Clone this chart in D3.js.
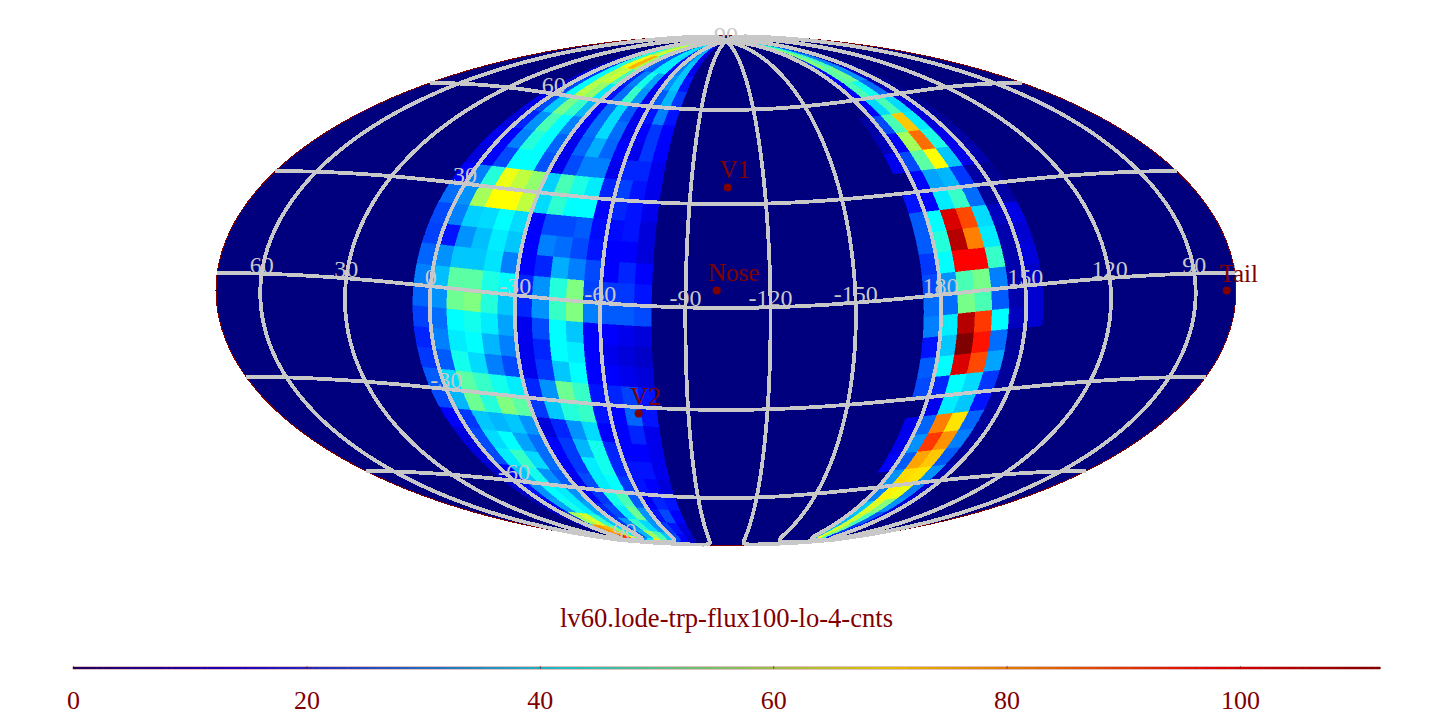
<!DOCTYPE html>
<html><head><meta charset="utf-8">
<script src="https://cdnjs.cloudflare.com/ajax/libs/d3/7.8.5/d3.min.js"></script>
<style>html,body{margin:0;padding:0;background:#fff;overflow:hidden}svg{display:block}text{font-family:"Liberation Serif",serif}</style>
</head><body><svg id="c" width="1452" height="728"></svg>
<script>
const title = "lv60.lode-trp-flux100-lo-4-cnts";
const colorTicks = [0,20,40,60,80,100];
const colorMax = 112;
const lonTicks = [60,30,0,-30,-60,-90,-120,-150,180,150,120,90];
const latTicks = [90,60,30,-30,-60,-90];
const latEdges = [90,84,78,72,66,60,54,48,42,36,30,24,18,12,6,0,-6,-12,-18,-24,-30,-36,-42,-48,-54,-60,-66,-72,-78,-84,-90];
const leftLonEdges = [6,0,-6,-12,-18,-24,-30,-36,-42,-48,-54,-60,-66,-72,-78];
const rightLonEdges = [-174,-180,-186,-192,-198,-204,-210,-216];
const leftBand = [
[4,18,40,56,60,40,22,22,38,36,14,26,30,10],
[4,20,44,60,66,44,24,24,40,38,16,28,34,12],
[6,20,46,68,78,60,26,24,40,40,16,28,36,12],
[8,20,42,62,64,50,18,28,44,32,14,30,36,16],
[8,22,42,62,58,40,16,26,48,30,12,24,34,20],
[12,22,36,55,48,34,14,26,38,24,12,16,28,16],
[10,18,30,50,42,28,14,26,38,26,12,14,20,14],
[12,14,28,46,42,25,12,25,33,25,14,12,20,14],
[10,14,22,42,42,23,12,22,28,28,12,18,18,12],
[14,28,46,68,63,58,37,50,45,40,18,21,16,12],
[26,30,60,70,70,63,38,47,42,42,14,18,16,12],
[22,28,37,38,42,38,14,22,22,24,15,15,16,10],
[21,16,30,35,40,36,14,28,26,22,16,14,14,10],
[25,30,36,36,39,28,14,18,33,28,22,14,18,14],
[28,35,52,52,45,42,18,30,46,56,21,20,20,16],
[25,30,54,56,46,36,18,30,48,56,28,24,24,22],
[21,26,42,44,40,32,12,22,42,36,14,14,12,10],
[18,28,40,42,34,28,12,18,42,40,14,12,10,8],
[20,24,44,38,28,22,12,20,36,42,14,14,12,10],
[24,38,52,48,44,40,18,30,54,48,16,18,21,16],
[22,34,54,46,56,52,20,36,46,48,16,14,25,16],
[14,20,36,34,36,30,10,18,30,38,14,14,18,12],
[10,22,38,42,32,26,14,20,34,44,18,14,14,12],
[10,22,40,48,38,26,14,20,40,44,18,16,16,12],
[8,14,36,44,30,24,12,22,40,42,20,16,14,10],
[8,16,30,42,40,30,14,20,44,50,24,14,18,16],
[6,14,32,44,40,32,18,22,40,54,30,16,22,14],
[8,20,60,66,48,36,20,30,48,38,30,20,16,10],
[10,40,82,78,56,40,24,34,60,50,36,22,14,8],
[10,50,90,96,70,50,30,40,72,60,36,22,14,8]
];
const rightBand = [
[0,22,52,40,20,6,2],
[0,20,58,46,24,6,2],
[0,20,56,50,28,6,2],
[0,14,52,54,30,8,2],
[0,14,50,44,26,6,2],
[0,14,38,50,38,10,2],
[4,22,50,76,40,10,3],
[6,14,60,86,45,12,4],
[12,22,52,70,36,12,5],
[0,14,32,34,20,4,2],
[16,14,40,48,26,3,4],
[24,42,102,90,38,7,11],
[24,46,106,84,40,5,9],
[20,42,98,98,48,5,10],
[22,30,50,55,28,5,8],
[26,26,55,50,24,5,9],
[28,40,106,92,42,7,9],
[16,36,112,96,26,3,0],
[24,42,102,90,32,3,0],
[22,18,42,38,20,3,0],
[0,12,40,36,16,3,0],
[12,25,84,73,25,3,0],
[12,30,92,82,28,3,0],
[14,24,80,76,24,3,0],
[0,30,74,73,30,6,0],
[0,28,71,68,28,8,0],
[0,36,66,56,30,10,2],
[0,34,64,50,24,10,2],
[0,36,66,54,20,10,2],
[0,34,70,50,16,6,2]
];
const markerNames = ["V1","Nose","Tail","V2"];
const markerLons = [-105,-101,79,-71];
const markerLats = [35,5,-5,-32];

const darkRed = "#800000", grey = "#c8c8c8";
const jet = d3.scaleLinear().domain([0,14,42,70,98,112])
  .range(["#00007f","#0000ff","#00ffff","#ffff00","#ff0000","#7f0000"]).clamp(true);

function mollweideRaw(l, p){
  const k = Math.PI*Math.sin(p);
  let lo=-Math.PI, hi=Math.PI;
  for (let i=0;i<60;i++){ const m=(lo+hi)/2; if(m+Math.sin(m)<k) lo=m; else hi=m; }
  const h = (lo+hi)/4;
  return [2*Math.SQRT2/Math.PI*l*Math.cos(h), Math.SQRT2*Math.sin(h)];
}
mollweideRaw.invert = (x,y)=>{ const h=Math.asin(y/Math.SQRT2); return [Math.PI*x/(2*Math.SQRT2*Math.cos(h)), Math.asin((2*h+Math.sin(2*h))/Math.PI)]; };

const projection = d3.geoProjection(mollweideRaw)
  .rotate([104.3,-5,0]).reflectX(true)
  .scale(510/(2*Math.SQRT2)).translate([726,290.5]).precision(0.2);
const path = d3.geoPath(projection);
const svg = d3.select("#c");

svg.append("path").datum({type:"Sphere"}).attr("d",path)
  .attr("fill","#00007f").attr("stroke",darkRed).attr("stroke-width",1).attr("shape-rendering","crispEdges");

function cellFeature(l0,l1,a,b){
  const lo=Math.min(l0,l1), hi=Math.max(l0,l1);
  const top=Math.min(89.99,Math.max(a,b)), bot=Math.max(-89.99,Math.min(a,b));
  const ring=[];
  d3.range(lo,hi,1).forEach(l=>ring.push([l,top]));
  d3.range(top,bot,-1).forEach(p=>ring.push([hi,p]));
  d3.range(hi,lo,-1).forEach(l=>ring.push([l,bot]));
  d3.range(bot,top,1).forEach(p=>ring.push([lo,p]));
  ring.push(ring[0]);
  return {type:"Polygon",coordinates:[ring]};
}
function drawBand(rows,edges){
  rows.forEach((row,r)=>row.forEach((v,c)=>{
    if(!v) return;
    const col=jet(v);
    svg.append("path").datum(cellFeature(edges[c],edges[c+1],latEdges[r],latEdges[r+1]))
      .attr("d",path).attr("fill",col).attr("stroke",col).attr("stroke-width",0.5)
      .attr("shape-rendering","crispEdges");
  }));
}
drawBand(leftBand,leftLonEdges);
drawBand(rightBand,rightLonEdges);

const meridians = lonTicks.map(l=>d3.range(-90,90.01,1).map(p=>[l,p]));
const parallels = [60,30,0,-30,-60].map(p=>d3.range(-180,180.01,1).map(l=>[l,p]));
svg.append("path").datum({type:"MultiLineString",coordinates:meridians.concat(parallels)})
  .attr("d",path).attr("fill","none").attr("stroke",grey).attr("stroke-width",3.8).attr("shape-rendering","crispEdges");

function label(lon,lat,txt,dy){
  const [x,y]=projection([lon,lat]);
  svg.append("text").attr("x",x).attr("y",y+dy).attr("text-anchor","middle")
    .attr("fill",grey).attr("font-size",24).text(txt);
}
lonTicks.forEach(l=>label(l,0,String(l),-1));
latTicks.forEach(p=>label(0,p,String(p),p===90?2:-1));

markerNames.forEach((n,i)=>{
  const [x,y]=projection([markerLons[i],markerLats[i]]);
  svg.append("circle").attr("cx",x).attr("cy",y).attr("r",4).attr("fill",darkRed);
  svg.append("text").attr("x",x+(n==="Tail"?12:n==="Nose"?17:7)).attr("y",y-9).attr("text-anchor","middle")
    .attr("fill",darkRed).attr("font-size",25).text(n);
});

svg.append("text").attr("x",726.5).attr("y",627).attr("text-anchor","middle")
  .attr("fill",darkRed).attr("font-size",26.6).text(title);

const xBar = d3.scaleLinear().domain([0,colorMax]).range([73,1380]);
svg.append("g").selectAll("rect").data(d3.range(0,colorMax,0.5)).join("rect")
  .attr("x",d=>xBar(d)).attr("y",667).attr("width",xBar(0.5)-xBar(0)+0.5).attr("height",2)
  .attr("fill",d=>jet(d));
svg.append("rect").attr("x",73).attr("y",667).attr("width",1307).attr("height",2)
  .attr("fill","none").attr("stroke",darkRed).attr("stroke-width",0.5);
const axis = d3.axisBottom(xBar).tickValues(colorTicks).tickSize(3).tickPadding(22);
const g = svg.append("g").attr("transform","translate(0,666)").call(axis);
g.select(".domain").remove();
g.selectAll("line").attr("stroke",darkRed).attr("stroke-width",0.6);
g.selectAll("text").attr("fill",darkRed).attr("font-size",26).attr("font-family","Liberation Serif");
</script></body></html>
